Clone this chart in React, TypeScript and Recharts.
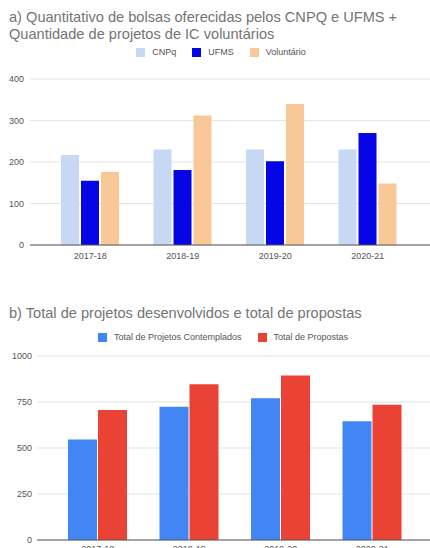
import { Bar, BarChart, CartesianGrid, XAxis, YAxis } from "recharts";

const periods = ["2017-18", "2018-19", "2019-20", "2020-21"];
const cnpq = [217, 230, 230, 230];
const ufms = [155, 181, 202, 270];
const voluntario = [176, 312, 340, 148];
const contemplados = [546, 724, 771, 645];
const propostas = [706, 847, 894, 735];
const ticksA = [0, 100, 200, 300, 400];
const ticksB = [0, 250, 500, 750, 1000];

const FONT = "'Liberation Sans', Arial, sans-serif";
const tickStyle = { fill: "#555", fontSize: 9, fontFamily: FONT };

const dataA = periods.map((period, i) => ({
  period,
  CNPq: cnpq[i],
  UFMS: ufms[i],
  Voluntário: voluntario[i],
}));

const dataB = periods.map((period, i) => ({
  period,
  "Total de Projetos Contemplados": contemplados[i],
  "Total de Propostas": propostas[i],
}));

interface LegendItem {
  label: string;
  color: string;
}

function LegendRow({ items, top, center }: { items: LegendItem[]; top: number; center: number }) {
  return (
    <div
      style={{
        position: "absolute",
        top: top - 6,
        left: center - 215,
        width: 430,
        display: "flex",
        justifyContent: "center",
        gap: 16,
        fontFamily: FONT,
        fontSize: 9,
        color: "#555",
        lineHeight: "12px",
      }}
    >
      {items.map((item) => (
        <span key={item.label} style={{ display: "flex", alignItems: "center" }}>
          <span style={{ width: 9, height: 9, background: item.color, marginRight: 7, display: "inline-block" }} />
          {item.label}
        </span>
      ))}
    </div>
  );
}

const titleStyle = {
  position: "absolute" as const,
  left: 9,
  fontFamily: FONT,
  fontSize: 14.6,
  color: "#747474",
  lineHeight: "17px",
  whiteSpace: "nowrap" as const,
};

export default function App() {
  return (
    <div
      style={{
        position: "absolute",
        left: 0,
        top: 0,
        width: 430,
        height: 548,
        overflow: "hidden",
        background: "#fff",
      }}
    >
      <div style={{ ...titleStyle, top: 9 }}>
        a) Quantitativo de bolsas oferecidas pelos CNPQ e UFMS +
        <br />
        Quantidade de projetos de IC voluntários
      </div>
      <LegendRow
        top={52}
        center={221}
        items={[
          { label: "CNPq", color: "#c6d8f3" },
          { label: "UFMS", color: "#0505e6" },
          { label: "Voluntário", color: "#f8c896" },
        ]}
      />
      <div style={{ position: "absolute", left: 0, top: 60 }}>
        <BarChart width={430} height={205} data={dataA} margin={{ top: 19, right: 0, bottom: 0, left: 0 }} barSize={18} barGap={2}>
          <CartesianGrid vertical={false} stroke="#e3e3e3" />
          <XAxis
            dataKey="period"
            height={20}
            tickLine={false}
            axisLine={{ stroke: "#555" }}
            padding={{ left: 14, right: 16 }}
            tick={tickStyle}
          />
          <YAxis
            width={30}
            domain={[0, 400]}
            ticks={ticksA}
            tickLine={false}
            axisLine={false}
            tickSize={6}
            tickMargin={0}
            tick={tickStyle}
          />
          <Bar dataKey="CNPq" fill="#c6d8f3" isAnimationActive={false} />
          <Bar dataKey="UFMS" fill="#0505e6" isAnimationActive={false} />
          <Bar dataKey="Voluntário" fill="#f8c896" isAnimationActive={false} />
        </BarChart>
      </div>

      <div style={{ ...titleStyle, top: 305 }}>b) Total de projetos desenvolvidos e total de propostas</div>
      <LegendRow
        top={337}
        center={223}
        items={[
          { label: "Total de Projetos Contemplados", color: "#4285f4" },
          { label: "Total de Propostas", color: "#ea4335" },
        ]}
      />
      <div style={{ position: "absolute", left: 0, top: 340 }}>
        <BarChart width={430} height={220} data={dataB} margin={{ top: 16, right: 0, bottom: 0, left: 0 }} barSize={29} barGap={1}>
          <CartesianGrid vertical={false} stroke="#e3e3e3" />
          <XAxis
            dataKey="period"
            height={20}
            tickLine={false}
            axisLine={{ stroke: "#555" }}
            tickMargin={0}
            padding={{ left: 15, right: 12 }}
            tick={tickStyle}
          />
          <YAxis
            width={37}
            domain={[0, 1000]}
            ticks={ticksB}
            tickLine={false}
            axisLine={false}
            tickSize={5}
            tickMargin={0}
            tick={tickStyle}
          />
          <Bar dataKey="Total de Projetos Contemplados" fill="#4285f4" isAnimationActive={false} />
          <Bar dataKey="Total de Propostas" fill="#ea4335" isAnimationActive={false} />
        </BarChart>
      </div>
    </div>
  );
}
